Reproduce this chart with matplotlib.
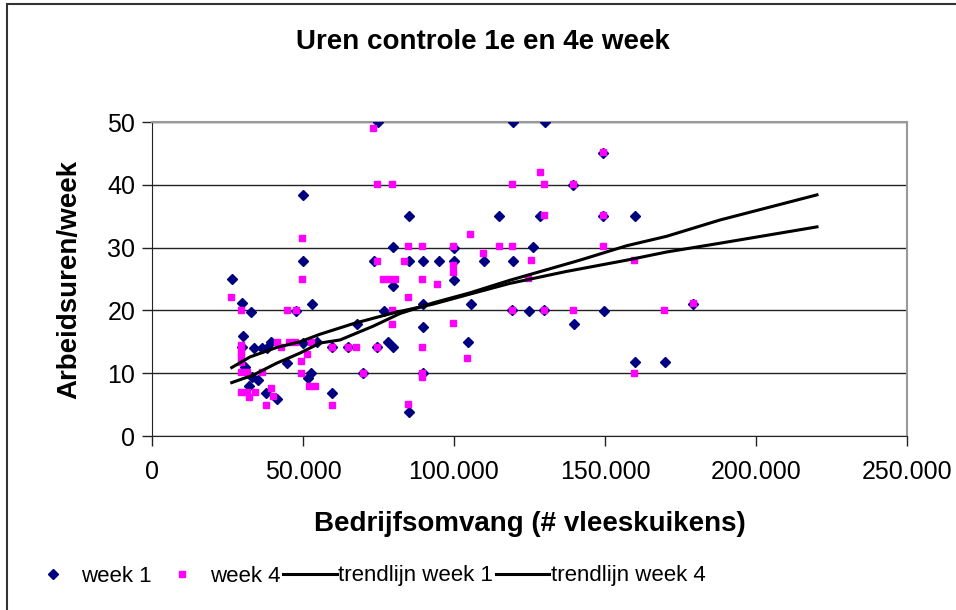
import matplotlib.pyplot as plt
from matplotlib.patches import Rectangle
from matplotlib.ticker import FuncFormatter

plt.rcParams['font.family'] = ['Liberation Sans', 'DejaVu Sans']

# bedrijfsomvang (x1000 vleeskuikens) en arbeidsuren per week
week1_x = [26.4, 29.8, 32.8, 30.0, 29.9, 33.9, 36.3, 38.0, 39.4, 30.8, 33.0, 35.2,
           32.1, 37.6, 41.3, 44.6, 47.6, 49.9, 49.9, 52.9, 50.1, 54.8, 51.8, 52.6,
           59.7, 59.5, 64.8, 67.8, 69.8, 74.4, 74.7, 73.5, 76.9, 78.3, 79.9, 79.9,
           79.9, 85.0, 85.0, 85.0, 89.6, 89.6, 89.6, 89.6, 94.9, 100.0, 100.0, 100.0,
           104.6, 105.7, 109.8, 115.0, 119.6, 119.6, 119.3, 124.8, 126.0, 128.5,
           130.1, 129.8, 139.5, 139.7, 149.5, 149.5, 149.6, 160.0, 159.9, 169.8, 179.2]
week1_y = [25, 21.1, 19.8, 16, 14.2, 14, 14, 14, 14.9, 11, 9.4, 8.9,
           8, 6.8, 5.9, 11.7, 19.9, 38.4, 27.9, 21, 14.8, 14.9, 9.2, 10,
           6.9, 14.1, 14.1, 17.9, 10, 14.1, 50, 27.9, 19.9, 14.9, 14.1, 23.9,
           30.1, 35, 27.9, 3.8, 27.9, 21, 17.3, 10, 27.9, 27.9, 24.8, 30,
           14.9, 21, 27.9, 35, 50, 27.9, 20, 19.9, 30.1, 35,
           50, 20, 40, 17.9, 45, 35, 19.9, 35, 11.8, 11.8, 21]

week4_x = [26.2, 29.5, 29.5, 29.5, 29.5, 29.5, 29.5, 31.6, 36.3, 29.5, 31.6, 34.0,
           32.1, 37.6, 39.4, 40.2, 41.3, 42.7, 44.6, 47.6, 45.4, 47.4, 49.7, 49.7,
           49.5, 51.4, 49.5, 52.6, 52.0, 54.0, 59.5, 59.5, 64.8, 67.5, 69.8, 73.3,
           74.4, 79.6, 74.6, 74.4, 76.6, 78.5, 80.5, 79.6, 79.6, 83.5, 84.8, 84.8,
           84.8, 89.4, 89.4, 89.4, 89.4, 89.4, 94.5, 99.8, 99.8, 99.8, 99.8, 104.2,
           105.3, 109.5, 114.8, 119.3, 119.3, 119.3, 124.6, 125.6, 128.5, 129.8,
           129.8, 129.8, 139.5, 139.5, 149.5, 149.5, 149.2, 159.6, 159.6, 169.4, 179.2]
week4_y = [22.2, 20, 14.5, 13.6, 12.7, 11.8, 10.2, 10.2, 10.2, 7, 7, 7,
           6.2, 5, 7.6, 6.3, 14.9, 14.1, 20, 20, 15, 15, 31.6, 25,
           12, 13, 10.1, 14.9, 8, 8, 14.1, 5, 14.1, 14.1, 10, 49,
           40.2, 40.2, 27.9, 14.1, 25, 25, 25, 20.1, 17.9, 27.9, 30.2, 22.2,
           5.1, 30.2, 25, 14.1, 10, 9.4, 24.2, 30.2, 27.2, 26.1, 18, 12.5,
           32.2, 29.1, 30.2, 30.2, 40.2, 20, 25.1, 28, 42.1, 40.2,
           35.2, 20, 40.2, 20, 45.2, 35.2, 30.2, 28, 10, 20, 21.1]

trend1_x = [26.4, 33.5, 41.3, 49.0, 55.6, 62.3, 73.3, 82.1, 93.1, 105.3, 118.5,
            141.7, 157.2, 170.4, 188.1, 220.2]
trend1_y = [8.5, 9.7, 11.6, 13.2, 14.8, 15.3, 17.5, 19.5, 21.2, 22.8, 24.8,
            28.0, 30.3, 31.8, 34.4, 38.4]
trend4_x = [26.4, 32.5, 41.3, 49.0, 55.6, 66.7, 79.9, 93.1, 105.3, 118.5, 137.2,
            157.2, 170.4, 188.1, 220.2]
trend4_y = [10.9, 12.6, 14.1, 15.0, 16.2, 17.9, 19.6, 21.0, 22.6, 24.3, 26.2,
            28.0, 29.3, 30.7, 33.3]

scale = 1000
fig = plt.figure(figsize=(9.56, 6.10), dpi=100)
fig.patches.append(Rectangle((7 / 956, -0.1), 1.2, (610 - 4) / 610 + 0.1,
                             transform=fig.transFigure, fill=False,
                             edgecolor='#333333', linewidth=1.5))
ax = fig.add_axes([152 / 956, (610 - 436) / 610, 755 / 956, 314 / 610])

ax.plot([v * scale for v in week1_x], week1_y, linestyle='none', marker='D',
        markersize=5.2, color='#000080', label='week 1', zorder=3)
ax.plot([v * scale for v in week4_x], week4_y, linestyle='none', marker='s',
        markersize=4.5, color='#FF00FF', label='week 4', zorder=3)
ax.plot([v * scale for v in trend1_x], trend1_y, color='black', linewidth=2.2,
        label='trendlijn week 1', zorder=4)
ax.plot([v * scale for v in trend4_x], trend4_y, color='black', linewidth=2.2,
        label='trendlijn week 4', zorder=4)

ax.set_xlim(0, 250000)
ax.set_ylim(0, 50)
ax.set_xticks(range(0, 250001, 50000))
ax.set_yticks(range(0, 51, 10))
ax.xaxis.set_major_formatter(FuncFormatter(lambda v, p: f"{int(v):,}".replace(',', '.')))
ax.grid(axis='y', color='#222222', linewidth=1)
ax.set_axisbelow(True)
for side in ['top', 'right']:
    ax.spines[side].set_color('#999999')
    ax.spines[side].set_linewidth(1.5)
ax.spines['left'].set_color('#222222')
ax.spines['bottom'].set_color('#222222')
ax.tick_params(axis='both', labelsize=18, length=7, width=1, color='#222222')
ax.tick_params(axis='x', pad=10)
ax.tick_params(axis='y', pad=5)

ax.set_xlabel('Bedrijfsomvang (# vleeskuikens)', fontsize=20, fontweight='bold',
              labelpad=20)
ax.set_ylabel('Arbeidsuren/week', fontsize=20, fontweight='bold', labelpad=18)
fig.text(483 / 956, 1 - 42 / 610, 'Uren controle 1e en 4e week', fontsize=20,
         fontweight='bold', ha='center', va='center')

fig.legend(loc='center', bbox_to_anchor=(366 / 956, 1 - 576 / 610), ncol=4,
           frameon=False, fontsize=16, handlelength=2.4, handletextpad=0.05,
           columnspacing=0.15, borderaxespad=0, borderpad=0)

fig.savefig('out.png', dpi=100)
